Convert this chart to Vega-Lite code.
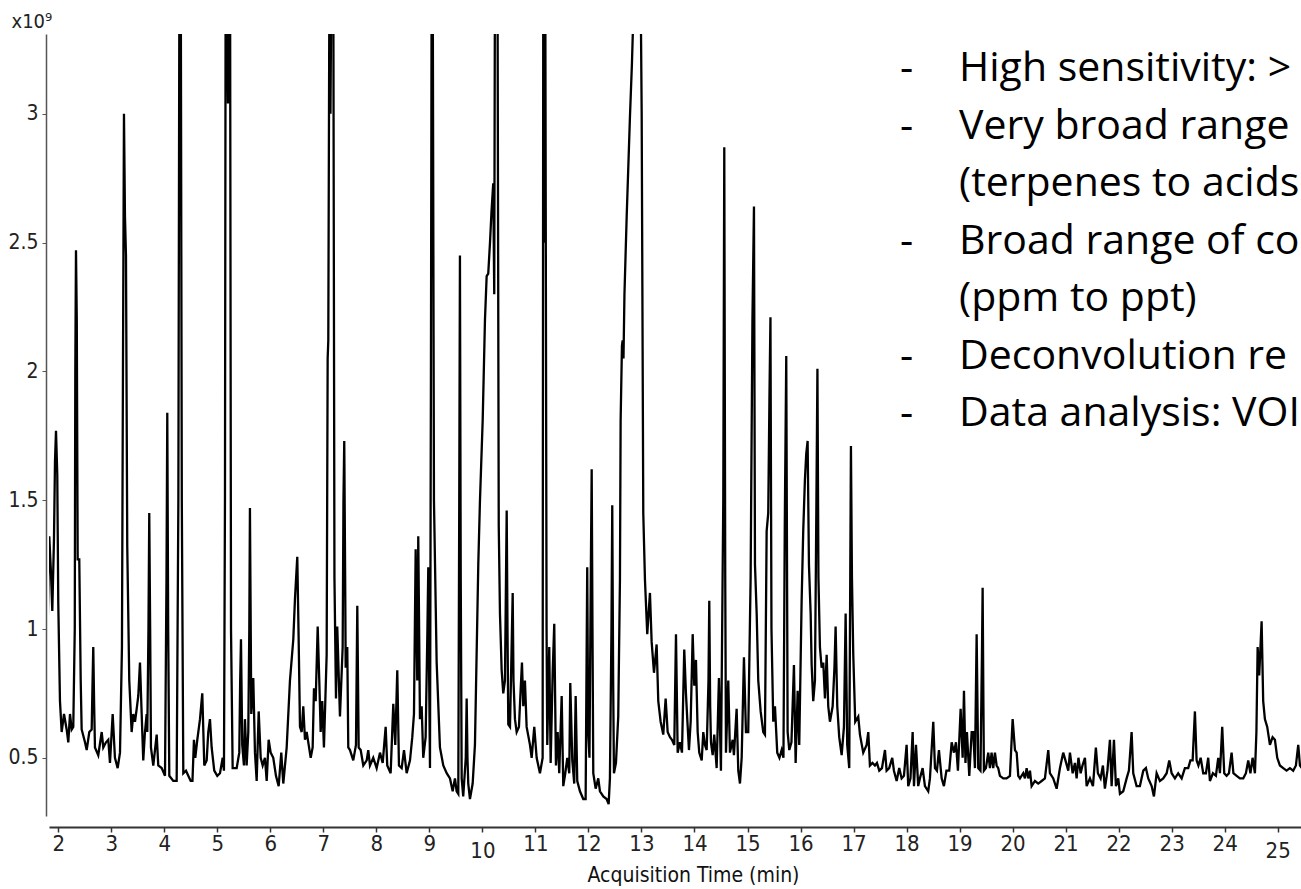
{
 "$schema": "https://vega.github.io/schema/vega-lite/v6.json",
 "width": 1252,
 "height": 782,
 "autosize": "none",
 "padding": {"left": 49, "top": 34, "right": 0, "bottom": 73},
 "background": "white",
 "config": {"view": {"stroke": null}, "axis": {"grid": false}},
 "datasets": {
  "trace": [
{"t":1.793,"v":0.93},{"t":1.83,"v":1.36},{"t":1.862,"v":1.22},{"t":1.887,"v":1.07},{"t":1.919,"v":1.35},{"t":1.938,"v":1.65},{"t":1.957,"v":1.77},{"t":1.981,"v":1.6},{"t":2.0,"v":1.1},{"t":2.032,"v":0.72},{"t":2.064,"v":0.6},{"t":2.108,"v":0.67},{"t":2.158,"v":0.61},{"t":2.189,"v":0.56},{"t":2.221,"v":0.67},{"t":2.253,"v":0.61},{"t":2.283,"v":0.62},{"t":2.311,"v":1.0},{"t":2.321,"v":2.0},{"t":2.334,"v":2.47},{"t":2.349,"v":2.2},{"t":2.366,"v":1.27},{"t":2.396,"v":1.27},{"t":2.423,"v":0.8},{"t":2.441,"v":0.61},{"t":2.504,"v":0.56},{"t":2.536,"v":0.53},{"t":2.585,"v":0.6},{"t":2.63,"v":0.61},{"t":2.647,"v":0.8},{"t":2.66,"v":0.93},{"t":2.677,"v":0.7},{"t":2.692,"v":0.54},{"t":2.754,"v":0.51},{"t":2.819,"v":0.6},{"t":2.849,"v":0.54},{"t":2.9,"v":0.56},{"t":2.943,"v":0.57},{"t":2.975,"v":0.48},{"t":3.026,"v":0.67},{"t":3.069,"v":0.5},{"t":3.12,"v":0.46},{"t":3.164,"v":0.52},{"t":3.201,"v":0.93},{"t":3.22,"v":2.0},{"t":3.239,"v":3.0},{"t":3.258,"v":2.6},{"t":3.277,"v":2.45},{"t":3.301,"v":1.32},{"t":3.339,"v":0.8},{"t":3.384,"v":0.6},{"t":3.415,"v":0.67},{"t":3.447,"v":0.64},{"t":3.479,"v":0.69},{"t":3.509,"v":0.74},{"t":3.541,"v":0.87},{"t":3.573,"v":0.67},{"t":3.603,"v":0.49},{"t":3.635,"v":0.6},{"t":3.667,"v":0.67},{"t":3.679,"v":0.6},{"t":3.701,"v":1.0},{"t":3.716,"v":1.45},{"t":3.733,"v":1.0},{"t":3.748,"v":0.54},{"t":3.792,"v":0.47},{"t":3.856,"v":0.59},{"t":3.886,"v":0.47},{"t":3.95,"v":0.46},{"t":4.013,"v":0.43},{"t":4.041,"v":1.2},{"t":4.056,"v":1.84},{"t":4.073,"v":1.0},{"t":4.094,"v":0.43},{"t":4.169,"v":0.41},{"t":4.233,"v":0.41},{"t":4.265,"v":1.5},{"t":4.285,"v":3.6},{"t":4.31,"v":3.6},{"t":4.33,"v":1.5},{"t":4.358,"v":0.44},{"t":4.409,"v":0.45},{"t":4.452,"v":0.43},{"t":4.497,"v":0.41},{"t":4.531,"v":0.41},{"t":4.559,"v":0.57},{"t":4.584,"v":0.5},{"t":4.622,"v":0.57},{"t":4.673,"v":0.65},{"t":4.716,"v":0.75},{"t":4.754,"v":0.47},{"t":4.799,"v":0.49},{"t":4.829,"v":0.6},{"t":4.861,"v":0.65},{"t":4.893,"v":0.54},{"t":4.942,"v":0.45},{"t":4.999,"v":0.43},{"t":5.05,"v":0.44},{"t":5.101,"v":0.5},{"t":5.125,"v":0.45},{"t":5.144,"v":1.5},{"t":5.157,"v":3.6},{"t":5.172,"v":3.6},{"t":5.2,"v":3.04},{"t":5.22,"v":3.6},{"t":5.24,"v":3.6},{"t":5.258,"v":1.0},{"t":5.289,"v":0.46},{"t":5.365,"v":0.46},{"t":5.414,"v":0.52},{"t":5.431,"v":0.8},{"t":5.446,"v":0.96},{"t":5.47,"v":0.55},{"t":5.502,"v":0.47},{"t":5.521,"v":0.65},{"t":5.553,"v":0.47},{"t":5.584,"v":0.6},{"t":5.603,"v":1.0},{"t":5.615,"v":1.47},{"t":5.63,"v":1.0},{"t":5.64,"v":0.67},{"t":5.678,"v":0.81},{"t":5.71,"v":0.52},{"t":5.742,"v":0.41},{"t":5.78,"v":0.68},{"t":5.818,"v":0.5},{"t":5.855,"v":0.47},{"t":5.898,"v":0.5},{"t":5.931,"v":0.41},{"t":5.968,"v":0.57},{"t":6.006,"v":0.52},{"t":6.055,"v":0.5},{"t":6.106,"v":0.43},{"t":6.157,"v":0.39},{"t":6.206,"v":0.52},{"t":6.244,"v":0.4},{"t":6.308,"v":0.54},{"t":6.37,"v":0.8},{"t":6.433,"v":0.96},{"t":6.465,"v":1.12},{"t":6.508,"v":1.28},{"t":6.534,"v":0.96},{"t":6.559,"v":0.62},{"t":6.591,"v":0.6},{"t":6.621,"v":0.7},{"t":6.653,"v":0.57},{"t":6.685,"v":0.6},{"t":6.723,"v":0.55},{"t":6.761,"v":0.5},{"t":6.798,"v":0.54},{"t":6.823,"v":0.77},{"t":6.855,"v":0.72},{"t":6.893,"v":1.01},{"t":6.923,"v":0.8},{"t":6.949,"v":0.6},{"t":6.979,"v":0.72},{"t":7.011,"v":0.54},{"t":7.062,"v":0.9},{"t":7.081,"v":2.05},{"t":7.093,"v":2.12},{"t":7.115,"v":3.6},{"t":7.134,"v":3.0},{"t":7.153,"v":3.6},{"t":7.187,"v":3.6},{"t":7.209,"v":1.2},{"t":7.238,"v":0.73},{"t":7.262,"v":1.01},{"t":7.313,"v":0.66},{"t":7.364,"v":0.93},{"t":7.379,"v":1.5},{"t":7.394,"v":1.73},{"t":7.411,"v":1.2},{"t":7.421,"v":0.85},{"t":7.451,"v":0.93},{"t":7.47,"v":0.54},{"t":7.502,"v":0.53},{"t":7.564,"v":0.49},{"t":7.615,"v":0.55},{"t":7.64,"v":1.09},{"t":7.666,"v":0.54},{"t":7.704,"v":0.53},{"t":7.753,"v":0.47},{"t":7.817,"v":0.49},{"t":7.847,"v":0.53},{"t":7.879,"v":0.47},{"t":7.941,"v":0.5},{"t":8.005,"v":0.46},{"t":8.068,"v":0.52},{"t":8.119,"v":0.48},{"t":8.175,"v":0.62},{"t":8.205,"v":0.47},{"t":8.269,"v":0.44},{"t":8.319,"v":0.71},{"t":8.356,"v":0.55},{"t":8.394,"v":0.84},{"t":8.426,"v":0.47},{"t":8.477,"v":0.46},{"t":8.521,"v":0.53},{"t":8.571,"v":0.44},{"t":8.634,"v":0.49},{"t":8.677,"v":0.58},{"t":8.709,"v":0.67},{"t":8.741,"v":1.31},{"t":8.771,"v":0.8},{"t":8.79,"v":1.36},{"t":8.822,"v":0.65},{"t":8.854,"v":0.7},{"t":8.884,"v":0.5},{"t":8.929,"v":0.58},{"t":8.963,"v":1.0},{"t":8.979,"v":1.24},{"t":8.996,"v":0.8},{"t":9.011,"v":0.46},{"t":9.029,"v":2.0},{"t":9.043,"v":3.6},{"t":9.062,"v":3.6},{"t":9.086,"v":1.5},{"t":9.137,"v":0.87},{"t":9.199,"v":0.54},{"t":9.262,"v":0.47},{"t":9.326,"v":0.44},{"t":9.388,"v":0.42},{"t":9.439,"v":0.37},{"t":9.482,"v":0.42},{"t":9.514,"v":0.37},{"t":9.545,"v":0.36},{"t":9.563,"v":1.5},{"t":9.576,"v":2.45},{"t":9.591,"v":1.2},{"t":9.609,"v":0.42},{"t":9.638,"v":0.35},{"t":9.686,"v":0.5},{"t":9.703,"v":0.73},{"t":9.718,"v":0.5},{"t":9.733,"v":0.4},{"t":9.765,"v":0.34},{"t":9.816,"v":0.4},{"t":9.859,"v":0.55},{"t":9.922,"v":1.25},{"t":9.954,"v":1.5},{"t":10.005,"v":1.81},{"t":10.048,"v":2.2},{"t":10.08,"v":2.37},{"t":10.11,"v":2.38},{"t":10.143,"v":2.5},{"t":10.171,"v":2.62},{"t":10.204,"v":2.73},{"t":10.223,"v":2.3},{"t":10.237,"v":3.6},{"t":10.284,"v":3.6},{"t":10.308,"v":1.4},{"t":10.331,"v":1.06},{"t":10.363,"v":0.84},{"t":10.393,"v":0.75},{"t":10.425,"v":0.8},{"t":10.445,"v":1.2},{"t":10.458,"v":1.46},{"t":10.473,"v":1.0},{"t":10.488,"v":0.63},{"t":10.52,"v":0.62},{"t":10.548,"v":0.9},{"t":10.571,"v":1.14},{"t":10.586,"v":0.8},{"t":10.614,"v":0.65},{"t":10.646,"v":0.6},{"t":10.689,"v":0.62},{"t":10.718,"v":0.75},{"t":10.746,"v":0.87},{"t":10.771,"v":0.7},{"t":10.802,"v":0.8},{"t":10.834,"v":0.62},{"t":10.897,"v":0.55},{"t":10.929,"v":0.5},{"t":10.978,"v":0.62},{"t":11.023,"v":0.5},{"t":11.085,"v":0.44},{"t":11.136,"v":0.5},{"t":11.148,"v":3.6},{"t":11.165,"v":2.5},{"t":11.185,"v":3.6},{"t":11.21,"v":1.0},{"t":11.223,"v":0.55},{"t":11.261,"v":0.93},{"t":11.287,"v":0.48},{"t":11.325,"v":0.83},{"t":11.355,"v":1.02},{"t":11.387,"v":0.47},{"t":11.419,"v":0.6},{"t":11.449,"v":0.44},{"t":11.495,"v":0.74},{"t":11.525,"v":0.39},{"t":11.563,"v":0.44},{"t":11.601,"v":0.5},{"t":11.638,"v":0.44},{"t":11.657,"v":0.79},{"t":11.695,"v":0.49},{"t":11.732,"v":0.4},{"t":11.759,"v":0.74},{"t":11.789,"v":0.41},{"t":11.84,"v":0.37},{"t":11.902,"v":0.34},{"t":11.947,"v":0.34},{"t":11.962,"v":0.8},{"t":11.977,"v":1.24},{"t":11.995,"v":0.6},{"t":12.019,"v":0.5},{"t":12.044,"v":1.2},{"t":12.061,"v":1.62},{"t":12.076,"v":1.0},{"t":12.091,"v":0.44},{"t":12.136,"v":0.38},{"t":12.185,"v":0.42},{"t":12.217,"v":0.37},{"t":12.28,"v":0.35},{"t":12.343,"v":0.34},{"t":12.381,"v":0.32},{"t":12.405,"v":0.42},{"t":12.434,"v":1.0},{"t":12.449,"v":1.48},{"t":12.466,"v":0.8},{"t":12.481,"v":0.44},{"t":12.519,"v":0.48},{"t":12.562,"v":0.66},{"t":12.594,"v":1.19},{"t":12.607,"v":1.81},{"t":12.632,"v":2.1},{"t":12.645,"v":2.12},{"t":12.661,"v":2.05},{"t":12.679,"v":2.3},{"t":12.721,"v":2.6},{"t":12.783,"v":2.99},{"t":12.821,"v":3.2},{"t":12.877,"v":3.6},{"t":12.98,"v":3.6},{"t":13.004,"v":3.0},{"t":13.034,"v":1.45},{"t":13.066,"v":1.19},{"t":13.109,"v":0.98},{"t":13.16,"v":1.14},{"t":13.192,"v":0.95},{"t":13.236,"v":0.83},{"t":13.286,"v":0.94},{"t":13.317,"v":0.72},{"t":13.362,"v":0.64},{"t":13.411,"v":0.59},{"t":13.456,"v":0.73},{"t":13.494,"v":0.6},{"t":13.538,"v":0.58},{"t":13.575,"v":0.57},{"t":13.619,"v":0.55},{"t":13.651,"v":0.98},{"t":13.683,"v":0.52},{"t":13.726,"v":0.56},{"t":13.764,"v":0.52},{"t":13.807,"v":0.92},{"t":13.839,"v":0.75},{"t":13.864,"v":0.65},{"t":13.896,"v":0.53},{"t":13.928,"v":0.64},{"t":13.966,"v":0.98},{"t":13.996,"v":0.78},{"t":14.028,"v":0.88},{"t":14.06,"v":0.6},{"t":14.09,"v":0.52},{"t":14.136,"v":0.49},{"t":14.166,"v":0.6},{"t":14.198,"v":0.55},{"t":14.23,"v":0.53},{"t":14.264,"v":0.8},{"t":14.279,"v":1.11},{"t":14.296,"v":0.7},{"t":14.311,"v":0.56},{"t":14.343,"v":0.51},{"t":14.373,"v":0.59},{"t":14.418,"v":0.46},{"t":14.461,"v":0.81},{"t":14.499,"v":0.45},{"t":14.543,"v":1.5},{"t":14.562,"v":2.87},{"t":14.58,"v":1.2},{"t":14.594,"v":0.52},{"t":14.637,"v":0.8},{"t":14.669,"v":0.52},{"t":14.72,"v":0.57},{"t":14.744,"v":0.51},{"t":14.795,"v":0.69},{"t":14.826,"v":0.45},{"t":14.858,"v":0.4},{"t":14.89,"v":0.5},{"t":14.933,"v":0.89},{"t":14.971,"v":0.6},{"t":15.014,"v":0.6},{"t":15.059,"v":1.2},{"t":15.093,"v":2.2},{"t":15.122,"v":2.64},{"t":15.141,"v":1.25},{"t":15.173,"v":1.06},{"t":15.203,"v":0.8},{"t":15.248,"v":0.68},{"t":15.297,"v":0.6},{"t":15.329,"v":0.59},{"t":15.361,"v":1.38},{"t":15.391,"v":1.45},{"t":15.414,"v":1.9},{"t":15.433,"v":2.21},{"t":15.452,"v":1.0},{"t":15.486,"v":0.64},{"t":15.518,"v":0.7},{"t":15.561,"v":0.52},{"t":15.602,"v":0.5},{"t":15.644,"v":0.53},{"t":15.678,"v":0.5},{"t":15.703,"v":1.4},{"t":15.731,"v":2.06},{"t":15.757,"v":0.6},{"t":15.788,"v":0.53},{"t":15.829,"v":0.56},{"t":15.876,"v":0.86},{"t":15.908,"v":0.48},{"t":15.946,"v":0.76},{"t":15.976,"v":0.55},{"t":16.021,"v":1.11},{"t":16.051,"v":1.38},{"t":16.083,"v":1.58},{"t":16.108,"v":1.68},{"t":16.134,"v":1.73},{"t":16.159,"v":1.25},{"t":16.191,"v":1.06},{"t":16.21,"v":0.86},{"t":16.24,"v":0.72},{"t":16.272,"v":0.8},{"t":16.3,"v":1.5},{"t":16.319,"v":2.01},{"t":16.338,"v":1.2},{"t":16.366,"v":0.93},{"t":16.398,"v":0.85},{"t":16.429,"v":0.87},{"t":16.461,"v":0.73},{"t":16.493,"v":0.9},{"t":16.523,"v":0.7},{"t":16.555,"v":0.64},{"t":16.606,"v":0.7},{"t":16.64,"v":0.85},{"t":16.662,"v":1.01},{"t":16.693,"v":0.7},{"t":16.73,"v":0.58},{"t":16.776,"v":0.51},{"t":16.819,"v":0.62},{"t":16.851,"v":1.06},{"t":16.881,"v":0.55},{"t":16.919,"v":0.46},{"t":16.938,"v":1.2},{"t":16.951,"v":1.71},{"t":16.97,"v":1.2},{"t":16.995,"v":0.9},{"t":17.032,"v":0.64},{"t":17.089,"v":0.66},{"t":17.121,"v":0.59},{"t":17.183,"v":0.52},{"t":17.247,"v":0.55},{"t":17.278,"v":0.6},{"t":17.309,"v":0.47},{"t":17.357,"v":0.48},{"t":17.404,"v":0.47},{"t":17.442,"v":0.48},{"t":17.485,"v":0.45},{"t":17.536,"v":0.46},{"t":17.593,"v":0.53},{"t":17.624,"v":0.45},{"t":17.673,"v":0.46},{"t":17.73,"v":0.5},{"t":17.762,"v":0.45},{"t":17.813,"v":0.41},{"t":17.862,"v":0.46},{"t":17.907,"v":0.42},{"t":17.951,"v":0.43},{"t":18.001,"v":0.55},{"t":18.032,"v":0.39},{"t":18.074,"v":0.42},{"t":18.115,"v":0.6},{"t":18.14,"v":0.39},{"t":18.178,"v":0.55},{"t":18.22,"v":0.39},{"t":18.252,"v":0.42},{"t":18.303,"v":0.46},{"t":18.347,"v":0.39},{"t":18.409,"v":0.37},{"t":18.441,"v":0.42},{"t":18.504,"v":0.64},{"t":18.536,"v":0.46},{"t":18.573,"v":0.45},{"t":18.611,"v":0.53},{"t":18.662,"v":0.42},{"t":18.705,"v":0.39},{"t":18.752,"v":0.45},{"t":18.805,"v":0.45},{"t":18.851,"v":0.56},{"t":18.894,"v":0.52},{"t":18.932,"v":0.56},{"t":18.969,"v":0.45},{"t":19.02,"v":0.69},{"t":19.058,"v":0.5},{"t":19.083,"v":0.76},{"t":19.111,"v":0.48},{"t":19.139,"v":0.6},{"t":19.183,"v":0.43},{"t":19.228,"v":0.6},{"t":19.258,"v":0.6},{"t":19.29,"v":0.46},{"t":19.322,"v":0.98},{"t":19.352,"v":0.46},{"t":19.394,"v":0.45},{"t":19.422,"v":0.9},{"t":19.435,"v":1.16},{"t":19.45,"v":0.7},{"t":19.459,"v":0.45},{"t":19.497,"v":0.46},{"t":19.541,"v":0.52},{"t":19.573,"v":0.46},{"t":19.604,"v":0.52},{"t":19.635,"v":0.46},{"t":19.667,"v":0.52},{"t":19.699,"v":0.47},{"t":19.729,"v":0.46},{"t":19.761,"v":0.43},{"t":19.824,"v":0.42},{"t":19.887,"v":0.42},{"t":19.95,"v":0.43},{"t":20.001,"v":0.65},{"t":20.045,"v":0.53},{"t":20.077,"v":0.52},{"t":20.107,"v":0.43},{"t":20.139,"v":0.42},{"t":20.201,"v":0.44},{"t":20.233,"v":0.42},{"t":20.265,"v":0.46},{"t":20.296,"v":0.42},{"t":20.328,"v":0.45},{"t":20.359,"v":0.39},{"t":20.422,"v":0.41},{"t":20.484,"v":0.4},{"t":20.548,"v":0.41},{"t":20.61,"v":0.42},{"t":20.673,"v":0.53},{"t":20.704,"v":0.44},{"t":20.767,"v":0.42},{"t":20.831,"v":0.38},{"t":20.893,"v":0.46},{"t":20.955,"v":0.52},{"t":20.997,"v":0.49},{"t":21.05,"v":0.45},{"t":21.082,"v":0.52},{"t":21.133,"v":0.44},{"t":21.176,"v":0.48},{"t":21.208,"v":0.42},{"t":21.242,"v":0.5},{"t":21.284,"v":0.44},{"t":21.318,"v":0.47},{"t":21.365,"v":0.5},{"t":21.397,"v":0.39},{"t":21.459,"v":0.42},{"t":21.516,"v":0.39},{"t":21.571,"v":0.54},{"t":21.609,"v":0.44},{"t":21.66,"v":0.42},{"t":21.704,"v":0.47},{"t":21.741,"v":0.38},{"t":21.789,"v":0.45},{"t":21.836,"v":0.57},{"t":21.868,"v":0.39},{"t":21.912,"v":0.57},{"t":21.949,"v":0.39},{"t":21.993,"v":0.42},{"t":22.025,"v":0.36},{"t":22.087,"v":0.37},{"t":22.151,"v":0.42},{"t":22.194,"v":0.45},{"t":22.245,"v":0.6},{"t":22.276,"v":0.44},{"t":22.339,"v":0.39},{"t":22.401,"v":0.39},{"t":22.465,"v":0.45},{"t":22.515,"v":0.46},{"t":22.559,"v":0.42},{"t":22.623,"v":0.39},{"t":22.666,"v":0.35},{"t":22.717,"v":0.44},{"t":22.779,"v":0.41},{"t":22.842,"v":0.42},{"t":22.906,"v":0.44},{"t":22.955,"v":0.49},{"t":23.0,"v":0.44},{"t":23.062,"v":0.42},{"t":23.124,"v":0.44},{"t":23.189,"v":0.42},{"t":23.25,"v":0.46},{"t":23.313,"v":0.46},{"t":23.354,"v":0.49},{"t":23.396,"v":0.49},{"t":23.439,"v":0.68},{"t":23.471,"v":0.49},{"t":23.505,"v":0.47},{"t":23.547,"v":0.5},{"t":23.596,"v":0.44},{"t":23.647,"v":0.44},{"t":23.69,"v":0.5},{"t":23.722,"v":0.41},{"t":23.779,"v":0.44},{"t":23.835,"v":0.43},{"t":23.879,"v":0.5},{"t":23.911,"v":0.44},{"t":23.954,"v":0.62},{"t":23.992,"v":0.44},{"t":24.037,"v":0.43},{"t":24.081,"v":0.44},{"t":24.131,"v":0.52},{"t":24.165,"v":0.44},{"t":24.226,"v":0.43},{"t":24.288,"v":0.42},{"t":24.351,"v":0.42},{"t":24.401,"v":0.44},{"t":24.445,"v":0.49},{"t":24.486,"v":0.44},{"t":24.527,"v":0.5},{"t":24.571,"v":0.44},{"t":24.599,"v":0.6},{"t":24.622,"v":0.93},{"t":24.652,"v":0.82},{"t":24.697,"v":1.03},{"t":24.727,"v":0.72},{"t":24.759,"v":0.65},{"t":24.803,"v":0.62},{"t":24.854,"v":0.55},{"t":24.904,"v":0.58},{"t":24.948,"v":0.57},{"t":24.992,"v":0.5},{"t":25.042,"v":0.47},{"t":25.105,"v":0.46},{"t":25.168,"v":0.45},{"t":25.231,"v":0.46},{"t":25.293,"v":0.45},{"t":25.344,"v":0.47},{"t":25.388,"v":0.55},{"t":25.42,"v":0.47},{"t":25.457,"v":0.46}
  ],
  "notes": [
   {"line": 1, "dash": "-", "text": "High sensitivity: >"},
   {"line": 2, "dash": "-", "text": "Very broad range"},
   {"line": 3, "dash": "", "text": "(terpenes to acids"},
   {"line": 4, "dash": "-", "text": "Broad range of co"},
   {"line": 5, "dash": "", "text": "(ppm to ppt)"},
   {"line": 6, "dash": "-", "text": "Deconvolution re"},
   {"line": 7, "dash": "-", "text": "Data analysis: VOI"}
  ]
 },
 "layer": [
  {
   "data": {"name": "trace"},
   "mark": {"type": "line", "color": "#000000", "strokeWidth": 2.3, "clip": true},
   "encoding": {
    "x": {
     "field": "t", "type": "quantitative",
     "scale": {"domain": [1.825, 25.44], "nice": false, "zero": false},
     "axis": {
      "values": [2,3,4,5,6,7,8,9,10,11,12,13,14,15,16,17,18,19,20,21,22,23,24,25],
      "format": "d",
      "offset": 11,
      "domainColor": "#333333", "domainWidth": 2,
      "tickColor": "#333333", "tickSize": 5, "tickWidth": 1.5,
      "labelFont": "DejaVu Sans Condensed, DejaVu Sans",
      "labelFontSize": 22, "labelColor": "#222222",
      "labelBaseline": "top",
      "labelPadding": {"condition": {"test": "datum.value == 10 || datum.value == 25", "value": 8}, "value": 1},
      "labelFlush": false, "labelOverlap": false,
      "title": "Acquisition Time (min)",
      "titleFont": "DejaVu Sans Condensed, DejaVu Sans",
      "titleFontSize": 21, "titleFontWeight": "normal", "titleColor": "#111111",
      "titleX": 644, "titleY": 54, "titleAlign": "center", "titleBaseline": "alphabetic"
     }
    },
    "y": {
     "field": "v", "type": "quantitative",
     "scale": {"domain": [0.274, 3.31], "nice": false, "zero": false},
     "axis": {
      "values": [0.5, 1, 1.5, 2, 2.5, 3],
      "format": "~g",
      "offset": 3,
      "domainColor": "#555555", "domainWidth": 1.5,
      "tickColor": "#555555", "tickSize": 4, "tickWidth": 1,
      "labelFont": "DejaVu Sans Condensed, DejaVu Sans",
      "labelFontSize": 21, "labelColor": "#222222", "labelPadding": 4,
      "title": "x10⁹",
      "titleFont": "DejaVu Sans Condensed, DejaVu Sans",
      "titleFontSize": 20, "titleFontWeight": "normal", "titleColor": "#222222",
      "titleAngle": 0, "titleAlign": "left", "titleBaseline": "alphabetic",
      "titleX": -35, "titleY": -7
     }
    }
   }
  },
  {
   "data": {"name": "notes"},
   "mark": {"type": "text", "align": "left", "baseline": "alphabetic", "font": "Open Sans", "fontSize": 41, "color": "#000000"},
   "encoding": {
    "x": {"datum": 18.99, "type": "quantitative"},
    "y": {"field": "line", "type": "quantitative", "scale": {"domain": [0.1826, 13.7826], "reverse": true, "nice": false, "zero": false}, "axis": null},
    "text": {"field": "text"}
   }
  },
  {
   "data": {"name": "notes"},
   "transform": [{"filter": "datum.dash != ''"}],
   "mark": {"type": "text", "align": "left", "baseline": "alphabetic", "font": "Open Sans", "fontSize": 41, "color": "#000000"},
   "encoding": {
    "x": {"datum": 17.875, "type": "quantitative"},
    "y": {"field": "line", "type": "quantitative", "scale": {"domain": [0.1826, 13.7826], "reverse": true, "nice": false, "zero": false}, "axis": null},
    "text": {"field": "dash"}
   }
  }
 ],
 "resolve": {"scale": {"y": "independent"}}
}
